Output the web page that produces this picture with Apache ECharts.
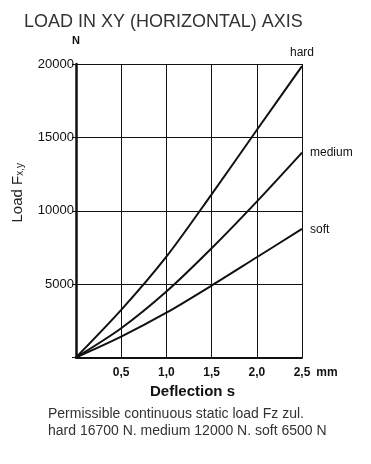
<!DOCTYPE html>
<html><head><meta charset="utf-8">
<script src="https://cdn.jsdelivr.net/npm/echarts@6/dist/echarts.min.js"></script>
<style>html,body{margin:0;padding:0;background:#fff}#c{width:371px;height:464px}</style>
</head><body><div id="c"></div>
<script>
var deflection = [0, 0.5, 1.0, 1.5, 2.0, 2.5];
var hard = [0, 3240, 6870, 11120, 15500, 19860];
var medium = [0, 1990, 4490, 7440, 10620, 13960];
var soft = [0, 1420, 3050, 4900, 6830, 8760];
var seriesNames = ['hard', 'medium', 'soft'];
var xTickLabels = ['', '0,5', '1,0', '1,5', '2,0', '2,5'];
var yTicks = [0, 5000, 10000, 15000, 20000];

function pairs(ys){ return deflection.map(function(x,i){return [x, ys[i]];}); }
var font = 'Liberation Sans, Arial, sans-serif';
var chart = echarts.init(document.getElementById('c'), null, {renderer:'canvas'});
var lineStyle = {color:'#111', width:2};
var offsets = [[-20,-13],[0,0],[0,1]];
var data = [hard, medium, soft];
chart.setOption({
  animation:false,
  backgroundColor:'#fff',
  textStyle:{fontFamily:font},
  title:[
    {text:'LOAD IN XY (HORIZONTAL) AXIS', left:24, top:13, padding:0, textStyle:{fontFamily:font, fontSize:18, fontWeight:'normal', color:'#333'}},
    {text:'Deflection s', left:150, top:384, padding:0, textStyle:{fontFamily:font, fontSize:15, fontWeight:'bold', color:'#111'}},
    {text:'Permissible continuous static load Fz zul.\nhard 16700 N. medium 12000 N. soft 6500 N', left:48, top:406, padding:0,
     textStyle:{fontFamily:font, fontSize:14, fontWeight:'normal', color:'#333', lineHeight:17}}
  ],
  graphic:[
    {type:'text', left:9, top:163, rotation:Math.PI/2, style:{
      text:'{a|Load F}{b|x,y}', rich:{a:{fontSize:15, fontFamily:font, fill:'#222', lineHeight:20, verticalAlign:'bottom'}, b:{fontSize:10, fontFamily:font, fill:'#222', lineHeight:20, verticalAlign:'bottom', padding:[6,0,0,0]}}
    }}
  ],
  grid:{left:76, right:69, top:64, bottom:106.5, show:false},
  xAxis:{type:'value', min:0, max:2.5, interval:0.5,
    name:'mm', nameLocation:'end', nameGap:9,
    nameTextStyle:{fontFamily:font, fontSize:12, fontWeight:'bold', color:'#111', verticalAlign:'top', padding:[9,0,0,0]},
    axisLine:{show:true, onZero:false, lineStyle:{color:'#111', width:2}},
    axisTick:{show:false},
    splitLine:{show:true, lineStyle:{color:'#111', width:1}},
    axisLabel:{fontFamily:font, fontSize:12, fontWeight:'bold', color:'#111', margin:9,
      formatter:function(v){ var i = Math.round(v/0.5); return xTickLabels[i] || ''; }}
  },
  yAxis:{type:'value', min:yTicks[0], max:yTicks[yTicks.length-1], interval:5000,
    name:'N', nameLocation:'end', nameGap:18,
    nameTextStyle:{fontFamily:font, fontSize:11, fontWeight:'bold', color:'#111', align:'center'},
    axisLine:{show:true, lineStyle:{color:'#111', width:2.5}},
    axisTick:{show:true, length:4, lineStyle:{color:'#111', width:1}},
    splitLine:{show:true, lineStyle:{color:'#111', width:1}},
    axisLabel:{fontFamily:font, fontSize:13, color:'#111', margin:2,
      formatter:function(v){ return v===0 ? '' : String(v); }}
  },
  series: seriesNames.map(function(n, k){
    return {name:n, type:'line', data:pairs(data[k]), smooth:0.3, showSymbol:false, symbol:'none',
      lineStyle:lineStyle, z:5,
      endLabel:{show:true, formatter:n, offset:offsets[k], fontFamily:font, fontSize:12, color:'#111'}};
  })
});
</script></body></html>
